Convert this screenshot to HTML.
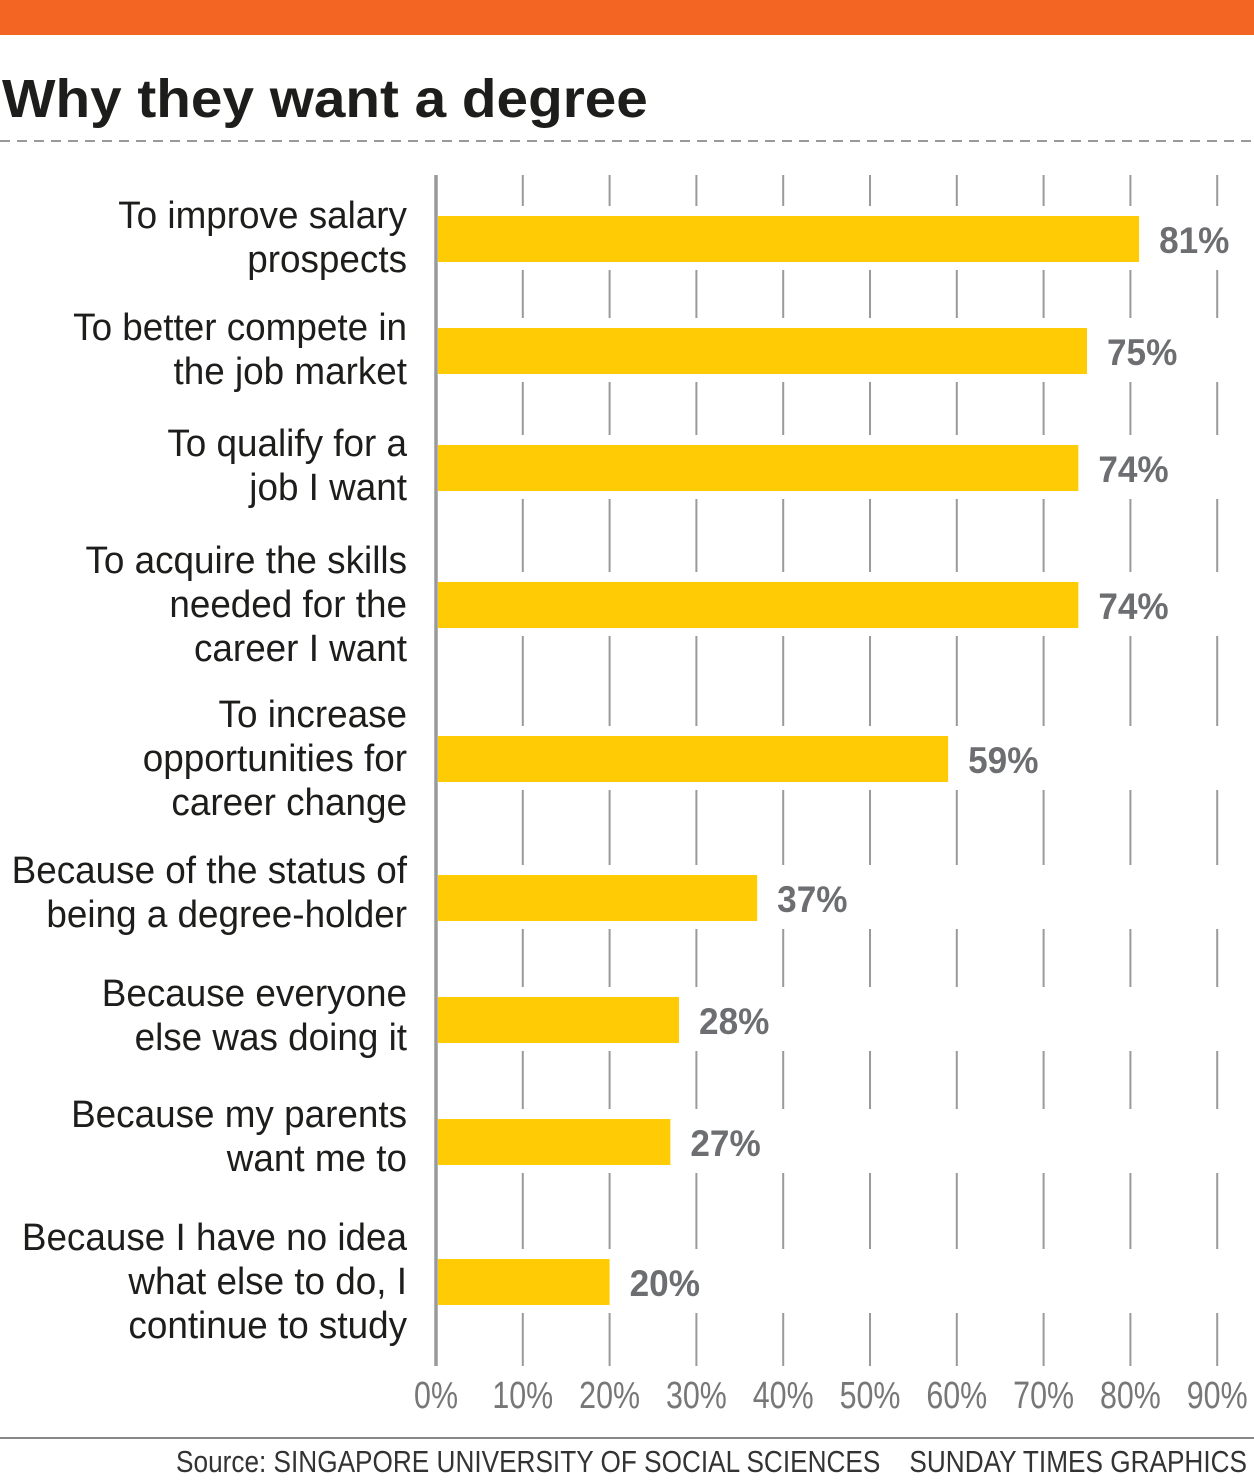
<!DOCTYPE html>
<html><head><meta charset="utf-8"><style>
html,body{margin:0;padding:0;background:#fff;}
svg{display:block;font-family:"Liberation Sans",sans-serif;}
</style></head><body>
<svg id="chart" width="1254" height="1482" viewBox="0 0 1254 1482">
<rect x="0" y="0" width="1254" height="35" fill="#f26522"/>
<text x="0" y="0" font-size="54" font-weight="bold" fill="#1d1d1b" transform="translate(2,117) scale(1.05,1)">Why they want a degree</text>
<line x1="0" y1="141" x2="1254" y2="141" stroke="#999" stroke-width="2" stroke-dasharray="10,7"/>
<g id="grid"></g>
<g id="bars"></g>
<g id="cats"></g>
<g id="ticks"></g>
<line x1="0" y1="1438" x2="1254" y2="1438" stroke="#888" stroke-width="2"/>
<text x="0" y="0" font-size="31" fill="#333" text-anchor="end" xml:space="preserve" transform="translate(1247,1472) scale(0.845,1)">Source: SINGAPORE UNIVERSITY OF SOCIAL SCIENCES    SUNDAY TIMES GRAPHICS</text>
</svg>
<script>
const categories = [
 ["To improve salary","prospects"],
 ["To better compete in","the job market"],
 ["To qualify for a","job I want"],
 ["To acquire the skills","needed for the","career I want"],
 ["To increase","opportunities for","career change"],
 ["Because of the status of","being a degree-holder"],
 ["Because everyone","else was doing it"],
 ["Because my parents","want me to"],
 ["Because I have no idea","what else to do, I","continue to study"]
];
const values = [81,75,74,74,59,37,28,27,20];
const tickValues = [0,10,20,30,40,50,60,70,80,90];
const tickLabels = ["0%","10%","20%","30%","40%","50%","60%","70%","80%","90%"];
const barTops = [216,328,445,582,736,875,997,1119,1259];
const labelTops = [215,327,443,560,714,870,993,1114,1237];

const NS="http://www.w3.org/2000/svg";
const x0=436, pxPer=8.68;
function xScale(v){return x0+v*pxPer;}
function mk(tag,attrs,parent){const e=document.createElementNS(NS,tag);for(const k in attrs)e.setAttribute(k,attrs[k]);parent.appendChild(e);return e;}
const grid=document.getElementById('grid'),bars=document.getElementById('bars'),cats=document.getElementById('cats'),ticks=document.getElementById('ticks');

tickValues.forEach((t,i)=>{
  const x=xScale(t);
  const l=mk('line',{x1:x,y1:175,x2:x,y2:1366,stroke:'#9a9a9a','stroke-width':i===0?3.5:2},grid);
  
  
  const tx=mk('text',{x:0,y:0,'font-size':38,fill:'#777','text-anchor':'middle',transform:`translate(${x},1408) scale(0.8,1)`},ticks);
  tx.textContent=tickLabels[i];
  
  
});

values.forEach((v,i)=>{
  const y=barTops[i],h=46;
  const bg=mk('rect',{x:xScale(0)+2,y:y-10,width:820,height:h+18,fill:'#fff'},bars);
  
  
  const r=mk('rect',{x:xScale(0)+2,y:y,width:xScale(v)-xScale(0)-2,height:h,fill:'#ffcb05'},bars);
  
  
  const t=mk('text',{x:0,y:0,'font-size':37,'font-weight':'bold',fill:'#6d6e71',transform:`translate(${xScale(v)+20},${y+37}) scale(0.95,1)`},bars);
  t.textContent=v+'%';
  
  
  categories[i].forEach((line,j)=>{
    const c=mk('text',{x:0,y:0,'font-size':38,fill:'#1d1d1b','text-anchor':'end',transform:`translate(407,${labelTops[i]+13+j*44}) scale(0.97,1)`},cats);
    c.textContent=line;
    
    
  });
});
</script>
</body></html>
